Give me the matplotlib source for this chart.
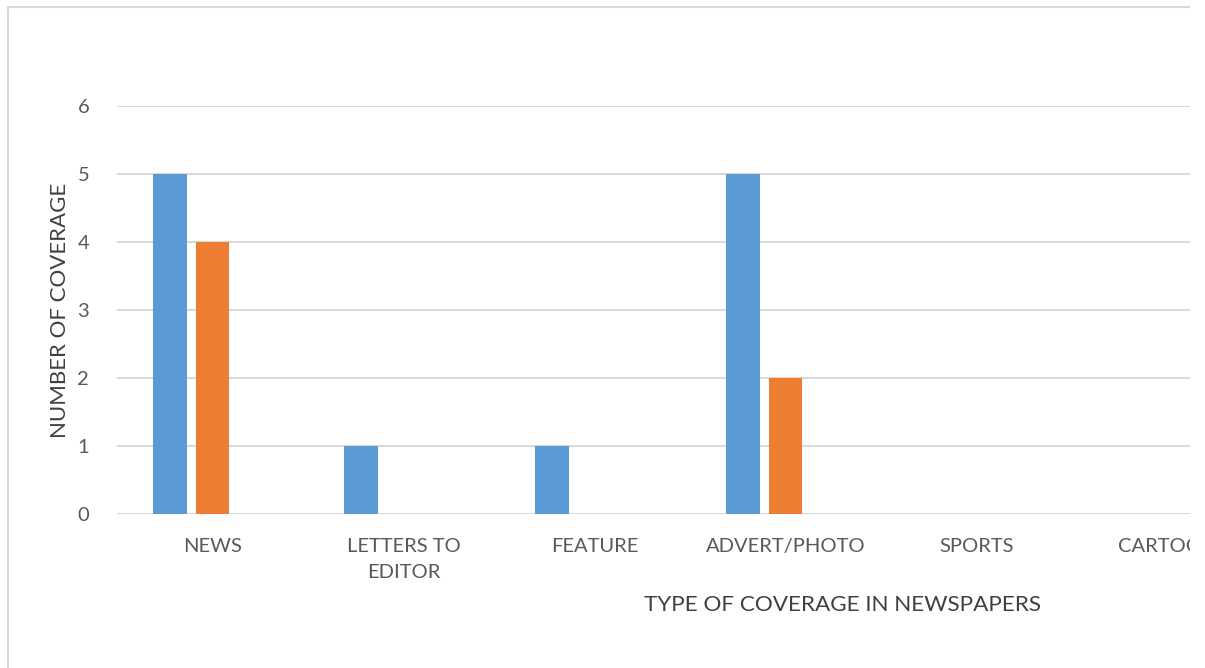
import numpy as np
import matplotlib.pyplot as plt
from matplotlib.patches import Rectangle
from matplotlib.lines import Line2D

categories = ['NEWS', 'LETTERS TO\nEDITOR', 'FEATURE', 'ADVERT/PHOTO', 'SPORTS', 'CARTOON']
series_1 = [5, 1, 1, 5, 0, 0]
series_2 = [4, 0, 0, 2, 0, 0]
series_3 = [0, 0, 0, 0, 0, 0]
y_ticks = [0, 1, 2, 3, 4, 5, 6]

plt.rcParams['font.family'] = ['Lato', 'DejaVu Sans']

W, H = 1205, 668
fig = plt.figure(figsize=(W / 100, H / 100), dpi=100)

# plot area runs past the right edge of the canvas
left, right, top, bottom = 117, 117 + 6 * 191, 106, 514
ax = fig.add_axes([left / W, 1 - bottom / H, (right - left) / W, (bottom - top) / H])

x = np.arange(len(categories))
width = 0.178
step = 0.2225
ax.bar(x - step, series_1, width, color='#5B9BD5', zorder=3)
ax.bar(x, series_2, width, color='#ED7D31', zorder=3)
ax.bar(x + step, series_3, width, color='#A5A5A5', zorder=3)

ax.set_xlim(-0.5, len(categories) - 0.5)
ax.set_ylim(0, 6)
ax.set_yticks(y_ticks)
ax.set_xticks(x)
ax.set_xticklabels(categories, fontsize=14.5, color='#595959', linespacing=1.7)
ax.tick_params(axis='y', labelsize=14.5, labelcolor='#595959', length=0, pad=20)
ax.tick_params(axis='x', length=0, pad=17)
for s in ax.spines.values():
    s.set_visible(False)
ax.yaxis.grid(True, color='#d9d9d9', linewidth=1.5, zorder=0)
ax.set_axisbelow(True)

fig.text(60 / W, 1 - 310 / H, 'NUMBER OF COVERAGE', rotation=90, fontsize=16,
         color='#404040', ha='center', va='center')
fig.text(843 / W, 1 - 605 / H, 'TYPE OF COVERAGE IN NEWSPAPERS', fontsize=16.2,
         color='#404040', ha='center', va='center')

# chart frame (left and top edges)
fig.add_artist(Line2D([8 / W, 8 / W], [0, 1 - 7 / H], transform=fig.transFigure,
                      color='#d9d9d9', linewidth=1.5))
fig.add_artist(Line2D([8 / W, 1190 / W], [1 - 7 / H, 1 - 7 / H], transform=fig.transFigure,
                      color='#d9d9d9', linewidth=1.5))
# blank strip on the right edge
fig.add_artist(Rectangle((1190 / W, 0), 1 - 1190 / W, 1, transform=fig.transFigure,
                         facecolor='white', edgecolor='none', zorder=100))

fig.savefig('out.png', dpi=100)
